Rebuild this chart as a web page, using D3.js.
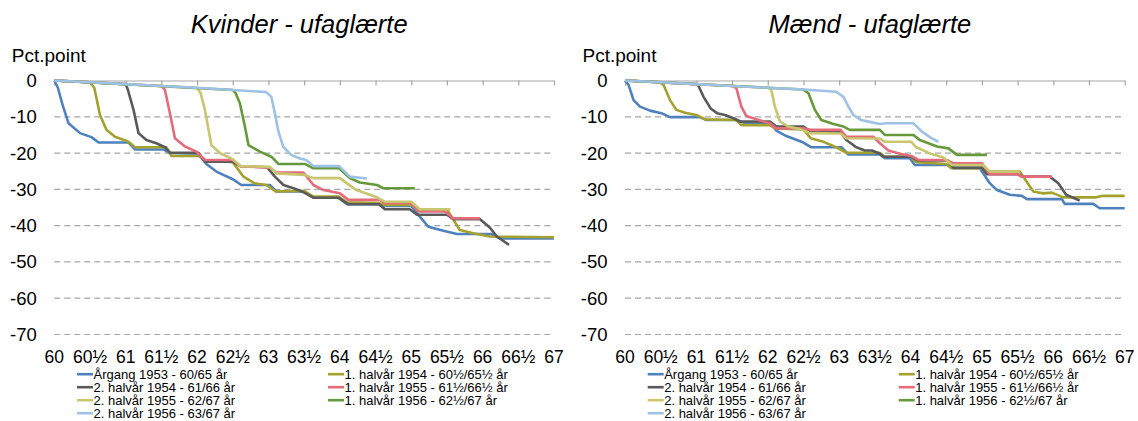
<!DOCTYPE html>
<html><head><meta charset="utf-8">
<script src="https://cdn.jsdelivr.net/npm/d3@7"></script>
<style>
html,body{margin:0;padding:0;background:#fff;}
svg text{font-family:"Liberation Sans",Arial,sans-serif;fill:#000;}
</style></head>
<body>
<svg id="c" width="1138" height="421"></svg>
<script>
// ---- tick labels ----
const xTickValues = [60,60.5,61,61.5,62,62.5,63,63.5,64,64.5,65,65.5,66,66.5,67];
const xTickLabels = ["60","60½","61","61½","62","62½","63","63½","64","64½","65","65½","66","66½","67"];
const yTickValues = [0,-10,-20,-30,-40,-50,-60,-70];

// ---- series names ----
const seriesNames = ["Årgang 1953 - 60/65 år","1. halvår 1954 - 60½/65½ år","2. halvår 1954 - 61/66 år",
  "1. halvår 1955 - 61½/66½ år","2. halvår 1955 - 62/67 år","1. halvår 1956 - 62½/67 år","2. halvår 1956 - 63/67 år"];
const seriesColors = ["#4f81bd","#a3a22e","#5a5a5a","#e46c7a","#c8c66e","#66993c","#9ec1e6"];

// ---- Kvinder - ufaglærte : [age, pct.point] ----
const kv1953 = [[60,0],[60.05,-2],[60.12,-7],[60.2,-11.8],[60.36,-14.5],[60.52,-15.6],[60.62,-17.1],[61.04,-17.1],[61.13,-19],[61.53,-19],[61.62,-20],[62.02,-20.2],[62.13,-23],[62.27,-25.1],[62.5,-27.2],[62.62,-28.8],[63.02,-28.8],[63.11,-30.6],[63.5,-30.6],[63.63,-32.3],[63.98,-32.3],[64.1,-34.1],[64.55,-34.1],[64.62,-34.6],[65.0,-34.6],[65.12,-37.5],[65.24,-40.3],[65.45,-41.4],[65.64,-42.3],[66.12,-42.3],[66.24,-43.5],[67,-43.5]];
const kv1954a = [[60,0],[60.5,-0.5],[60.56,-2],[60.64,-9.5],[60.73,-13.6],[60.85,-15.5],[61.04,-16.9],[61.13,-18.4],[61.57,-18.4],[61.64,-20.8],[62.02,-20.8],[62.11,-21.9],[62.5,-22.5],[62.65,-26.5],[62.8,-28.3],[62.97,-28.8],[63.1,-30.6],[63.5,-30.4],[63.63,-32],[63.98,-32],[64.1,-33.6],[64.55,-33.8],[64.63,-34.3],[65.0,-34.3],[65.1,-35.5],[65.5,-35.5],[65.58,-38],[65.68,-41.2],[65.87,-42.1],[66.1,-43],[67,-43.2]];
const kv1954b = [[60,0],[61,-1],[61.03,-2.5],[61.11,-8.1],[61.18,-14.5],[61.29,-16.4],[61.43,-17.3],[61.55,-18.4],[61.62,-19.9],[62.02,-19.9],[62.11,-22.4],[62.5,-22.4],[62.61,-23.6],[62.98,-23.9],[63.09,-26.5],[63.21,-28.8],[63.35,-29.7],[63.46,-30.5],[63.63,-32.3],[63.98,-32.3],[64.12,-34.1],[64.55,-34.1],[64.63,-35.5],[64.98,-35.5],[65.08,-37],[65.5,-37],[65.59,-38.2],[65.96,-38.2],[66.1,-40.5],[66.2,-43],[66.37,-45.3]];
const kv1955a = [[60,0],[61.5,-1.5],[61.55,-2.6],[61.62,-9],[61.69,-15.9],[61.83,-18.2],[61.99,-19.6],[62.11,-21.9],[62.5,-21.9],[62.61,-23.7],[63.02,-24],[63.11,-25.4],[63.49,-25.4],[63.63,-28.8],[63.77,-30.2],[64.0,-31.1],[64.12,-32.9],[64.56,-32.9],[64.63,-33.8],[65.0,-33.8],[65.1,-36.1],[65.47,-36.1],[65.59,-38],[65.96,-38]];
const kv1955b = [[60,0],[62,-2],[62.05,-3.5],[62.11,-8.1],[62.2,-17.8],[62.32,-20],[62.5,-21.7],[62.61,-23.6],[63.02,-23.8],[63.11,-25.6],[63.5,-26],[63.63,-26.9],[64.0,-26.9],[64.23,-30.2],[64.52,-32.2],[64.63,-33.4],[65.0,-33.4],[65.12,-35.5],[65.55,-35.5]];
const kv1956a = [[60,0],[62.5,-2.6],[62.54,-3.5],[62.6,-6.3],[62.67,-12.7],[62.72,-17.8],[62.88,-19.6],[63.04,-21],[63.14,-23],[63.51,-23],[63.63,-24.2],[63.99,-24.2],[64.14,-26.9],[64.28,-28.1],[64.52,-28.8],[64.61,-29.7],[65.05,-29.7]];
const kv1956b = [[60,0],[60.5,-0.5],[61,-1],[61.5,-1.5],[62,-2],[62.5,-2.6],[62.97,-3.2],[63.04,-4.5],[63.09,-9],[63.14,-14.1],[63.21,-18.4],[63.32,-20.5],[63.44,-21.5],[63.53,-21.9],[63.63,-23.6],[63.99,-23.6],[64.14,-26.5],[64.38,-27]];

// ---- Mænd - ufaglærte : [age, pct.point] ----
const m1953 = [[60,0],[60.05,-1.2],[60.12,-5.4],[60.21,-7.2],[60.35,-8.3],[60.51,-9],[60.63,-10.1],[61.05,-10.1],[61.14,-10.9],[61.56,-10.9],[61.66,-11.6],[62.03,-11.6],[62.12,-13.8],[62.26,-15.3],[62.5,-17.1],[62.61,-18.4],[63.03,-18.4],[63.13,-20.4],[63.57,-20.4],[63.64,-21.4],[63.99,-21.4],[64.06,-23.3],[64.53,-23.3],[64.6,-24.2],[64.97,-24.2],[65.11,-28.3],[65.21,-30.2],[65.39,-31.5],[65.56,-31.8],[65.63,-32.7],[66.12,-32.7],[66.16,-34],[66.56,-34],[66.65,-35.2],[67,-35.2]];
const m1954a = [[60,0],[60.5,-0.5],[60.54,-1.2],[60.63,-5.4],[60.72,-8.1],[60.84,-8.9],[61.0,-9.5],[61.12,-10.7],[61.56,-10.9],[61.63,-12.3],[62.03,-12.3],[62.1,-13.2],[62.5,-13.5],[62.6,-15.9],[62.78,-16.9],[62.96,-18.4],[63.1,-19.9],[63.57,-19.9],[63.64,-21],[64.0,-21],[64.08,-22.5],[64.5,-23],[64.57,-24.2],[65.0,-24.2],[65.08,-25.1],[65.53,-25.1],[65.72,-30.6],[65.86,-31.1],[65.98,-30.9],[66.14,-32.2],[66.6,-32.2],[66.68,-31.8],[67,-31.8]];
const m1954b = [[60,0],[61,-1],[61.03,-1.5],[61.1,-4.5],[61.2,-7.7],[61.29,-9],[61.4,-9.5],[61.52,-10.4],[61.61,-11.3],[62.03,-11.3],[62.12,-12.7],[62.5,-12.7],[62.6,-14.1],[63.01,-14.1],[63.1,-16.4],[63.24,-18.4],[63.36,-19.3],[63.46,-19.3],[63.57,-20.2],[63.62,-21],[64.0,-21],[64.1,-22],[64.52,-22],[64.6,-24],[65.0,-24],[65.07,-25.8],[65.49,-25.8],[65.58,-26.5],[65.95,-26.5],[66.07,-28.3],[66.18,-31.5],[66.37,-33.1]];
const m1955a = [[60,0],[61.5,-1.5],[61.56,-2.1],[61.63,-7.2],[61.7,-9.8],[61.84,-10.7],[62.03,-11.8],[62.12,-13.2],[62.5,-13.2],[62.6,-13.6],[63.02,-13.6],[63.1,-15.5],[63.48,-15.5],[63.57,-17.3],[63.69,-19.3],[63.85,-20.2],[64.01,-20.8],[64.11,-21.9],[64.5,-21.9],[64.6,-22.8],[65.0,-22.8],[65.11,-25.8],[65.5,-25.8],[65.55,-26.5],[65.98,-26.5]];
const m1955b = [[60,0],[62,-2],[62.05,-2.6],[62.1,-7.2],[62.17,-11.3],[62.29,-12.7],[62.45,-13.4],[62.59,-14.5],[63.02,-14.6],[63.1,-15.9],[63.57,-16],[63.64,-16.9],[64.01,-16.9],[64.08,-18.4],[64.27,-20.1],[64.46,-21.2],[64.58,-23.3],[65.02,-23.3],[65.11,-25.1],[65.53,-25.1]];
const m1956a = [[60,0],[62.5,-2.5],[62.52,-2.8],[62.57,-3.5],[62.66,-8.1],[62.75,-10.9],[62.92,-12],[63.06,-12.7],[63.15,-13.6],[63.57,-13.6],[63.64,-15],[64.04,-15],[64.13,-16.4],[64.37,-18.2],[64.53,-18.7],[64.65,-20.5],[65.07,-20.5]];
const m1956b = [[60,0],[60.5,-0.5],[61,-1],[61.5,-1.5],[62,-2],[62.5,-2.5],[62.96,-3.1],[63.06,-4.5],[63.13,-7.2],[63.2,-9.5],[63.31,-10.9],[63.43,-11.4],[63.57,-12],[63.66,-11.8],[64.04,-11.8],[64.16,-14.1],[64.27,-15.6],[64.39,-16.9]];

const panels = [
  {title:"Kvinder - ufaglærte", x0:54.3, series:[kv1953,kv1954a,kv1954b,kv1955a,kv1955b,kv1956a,kv1956b]},
  {title:"Mænd - ufaglærte", x0:625, series:[m1953,m1954a,m1954b,m1955a,m1955b,m1956a,m1956b]}
];

const svg = d3.select("#c");
const plotW = 499.7, yTop = 80.5, yBot = 334.5;

panels.forEach(p => {
  const g = svg.append("g");
  const x = d3.scaleLinear().domain([60,67]).range([p.x0, p.x0+plotW]);
  const y = d3.scaleLinear().domain([0,-70]).range([yTop, yBot]);

  // title
  g.append("text").attr("x", p.x0 + plotW/2 - 5).attr("y", 33).attr("text-anchor","middle")
    .style("font-size","25.5px").style("font-style","italic").text(p.title);
  g.append("text").attr("x", p.x0 - 42.5).attr("y", 62).style("font-size","19px").text("Pct.point");

  // gridlines
  g.selectAll("line.grid").data(yTickValues.filter(v=>v!==0)).enter().append("line")
    .attr("x1", p.x0).attr("x2", p.x0+plotW).attr("y1", d=>y(d)).attr("y2", d=>y(d))
    .attr("stroke","#a6a6a6").attr("stroke-width",1.2).attr("stroke-dasharray","6,4");

  // y labels
  g.selectAll("text.yl").data(yTickValues).enter().append("text")
    .attr("x", p.x0 - 17.5).attr("y", d=>y(d)+6.5).attr("text-anchor","end")
    .style("font-size","18.5px").text(d=>d===0?"0":"-"+Math.abs(d));

  // top axis at 0 with ticks (no labels)
  const ax = d3.axisBottom(x).tickValues(xTickValues).tickSize(5).tickSizeOuter(0);
  const axg = g.append("g").attr("transform",`translate(0,${y(0)})`).call(ax);
  axg.selectAll(".tick text").remove();
  axg.select(".domain").attr("stroke","#a6a6a6").attr("stroke-width",1.2);
  axg.selectAll(".tick line").attr("stroke","#a6a6a6").attr("stroke-width",1.2);

  // x labels at bottom
  g.selectAll("text.xl").data(xTickValues).enter().append("text")
    .attr("x", d=>x(d)).attr("y", 362.5).attr("text-anchor","middle")
    .style("font-size","17.5px").text((d,i)=>xTickLabels[i]);

  // lines
  const line = d3.line().x(d=>x(d[0])).y(d=>y(d[1]));
  p.series.forEach((s,i) => {
    g.append("path").datum(s).attr("d", line).attr("fill","none")
      .attr("stroke", seriesColors[i]).attr("stroke-width",2.6)
      .attr("stroke-linejoin","round").attr("stroke-linecap","butt");
  });

  // legend (two columns, filled row by row)
  const lx = [p.x0 + 22.7, p.x0 + 273.7];
  const baseY = [378.8, 391.8, 404.8, 417.8];
  seriesNames.forEach((n,i) => {
    const rr = Math.floor(i/2), cc = i%2;
    const lg = g.append("g");
    lg.append("line").attr("x1", lx[cc]).attr("x2", lx[cc]+16).attr("y1", baseY[rr]-4.6).attr("y2", baseY[rr]-4.6)
      .attr("stroke", seriesColors[i]).attr("stroke-width",2.6);
    lg.append("text").attr("x", lx[cc]+16.5).attr("y", baseY[rr]).style("font-size","13px").text(n);
  });
});
</script>
</body></html>
